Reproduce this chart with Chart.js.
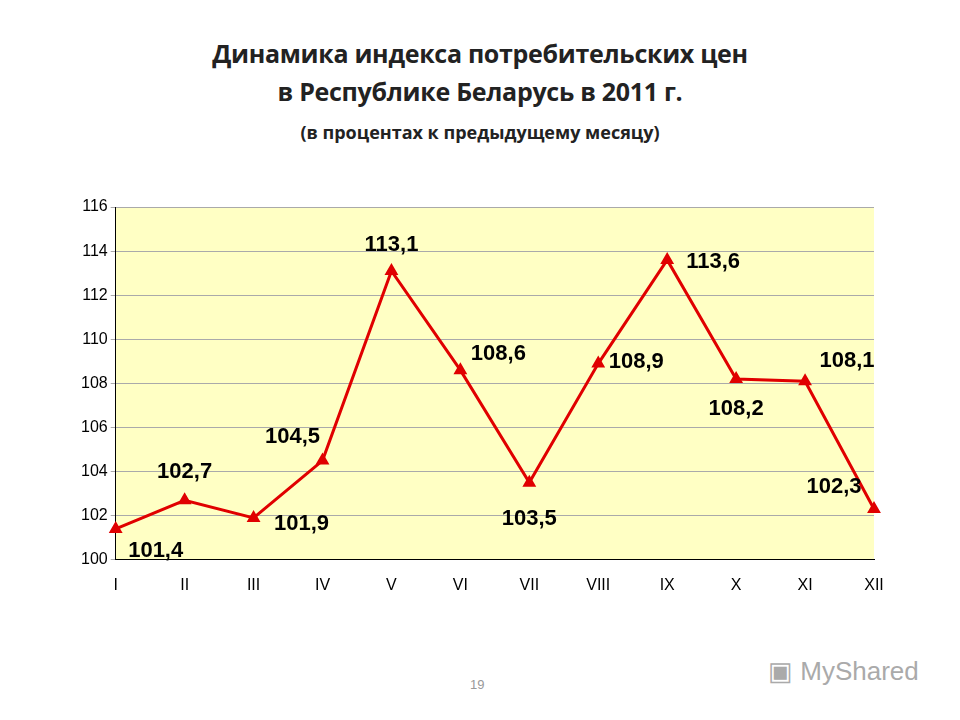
<!DOCTYPE html>
<html><head><meta charset="utf-8">
<script src="https://cdn.jsdelivr.net/npm/chart.js@4"></script>
<style>
body{margin:0;background:#fff;width:960px;height:720px;overflow:hidden;position:relative;font-family:"Open Sans",sans-serif}
#t{position:absolute;top:34px;left:0;width:960px;text-align:center;font-weight:bold;font-size:25px;line-height:38px;color:#222;letter-spacing:-0.3px}
#s{position:absolute;top:120px;left:0;width:960px;text-align:center;font-weight:bold;font-size:18px;color:#222}
#n{position:absolute;top:677px;left:470px;font-size:13px;color:#999;font-family:Arial}
#w{position:absolute;top:656px;left:768px;font-size:26px;color:#aaa;font-family:Arial}
canvas{position:absolute;left:0;top:0}
</style></head><body>
<div id="t">Динамика индекса потребительских цен<br>в Республике Беларусь в 2011 г.</div>
<div id="s">(в процентах к предыдущему месяцу)</div>
<div id="n">19</div>
<div id="w">▣ MyShared</div>
<canvas id="c" width="960" height="720"></canvas>
<script>
const months = ['I','II','III','IV','V','VI','VII','VIII','IX','X','XI','XII'];
const cpi = [101.4,102.7,101.9,104.5,113.1,108.6,103.5,108.9,113.6,108.2,108.1,102.3];
const yTicks = [100,102,104,106,108,110,112,114,116];
// label offsets (dx, dy) from point
const offs = [[40,22],[0,-28],[48,6],[-30,-24],[0,-26],[38,-16],[0,36],[38,-2],[46,2],[0,30],[42,-20],[-40,-22]];

const bg = {id:'bg',beforeDraw(ch){const a=ch.chartArea,x=ch.ctx;x.save();x.fillStyle='#FFFFC4';x.fillRect(a.left,a.top,a.right-a.left,a.bottom-a.top);x.restore();}};
const lbl = {id:'lbl',afterDatasetsDraw(ch){const x=ch.ctx;x.save();x.font='bold 22px Arial';x.fillStyle='#000';x.textAlign='center';x.textBaseline='middle';
 ch.getDatasetMeta(0).data.forEach((p,i)=>{x.fillText(cpi[i].toFixed(1).replace('.',','),p.x+offs[i][0],p.y+offs[i][1]);});x.restore();}};

new Chart(document.getElementById('c'),{
 type:'line',
 data:{labels:months,datasets:[{data:cpi,borderColor:'#E00000',backgroundColor:'#E00000',borderWidth:3,pointStyle:'triangle',pointRadius:5,tension:0}]},
 options:{responsive:false,animation:false,
  layout:{padding:{top:207,left:78,right:86,bottom:117}},
  plugins:{legend:{display:false},tooltip:{enabled:false}},
  scales:{
   x:{offset:false,grid:{display:false},border:{color:'#000'},ticks:{color:'#000',padding:8,font:{family:'Arial',size:16}}},
   y:{min:100,max:116,afterBuildTicks(s){s.ticks=yTicks.map(v=>({value:v}));},grid:{color:'#aaa',tickLength:5},border:{color:'#000'},ticks:{color:'#000',font:{family:'Arial',size:16}}}
  }},
 plugins:[bg,lbl]
});
</script></body></html>
